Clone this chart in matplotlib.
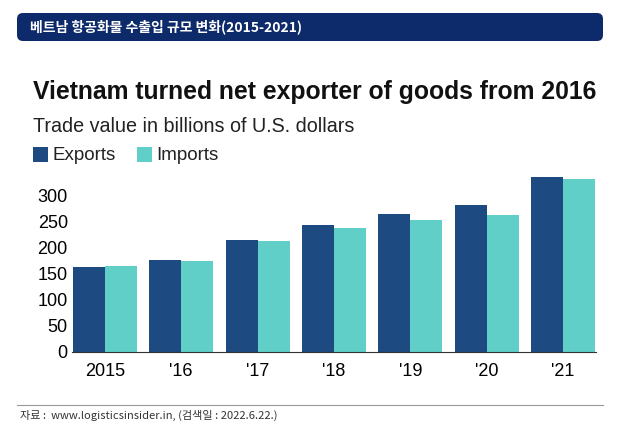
import matplotlib
matplotlib.use("Agg")
import matplotlib.pyplot as plt
from matplotlib.patches import FancyBboxPatch
import numpy as np

plt.rcParams['font.family'] = ['Noto Sans CJK KR', 'DejaVu Sans']

years = ["2015", "'16", "'17", "'18", "'19", "'20", "'21"]
exports = [162, 176, 215, 244, 264, 282, 336]
imports = [165, 175, 213, 237, 253, 262, 332]
yticks = [0, 50, 100, 150, 200, 250, 300]

W, H = 638, 437
fig = plt.figure(figsize=(W/100, H/100), dpi=100)

hdr = fig.add_axes([0, 0, 1, 1], facecolor='none')
hdr.set_xlim(0, W); hdr.set_ylim(H, 0); hdr.axis('off')
hdr.add_patch(FancyBboxPatch((17, 13), 586, 28, boxstyle="round,pad=0,rounding_size=6",
                             fc='#0d2a6b', ec='none'))
hdr.text(30, 27, "베트남 항공화물 수출입 규모 변화(2015-2021)", color='white',
         fontsize=10, fontweight='bold', va='center')
hdr.text(33, 92, "Vietnam turned net exporter of goods from 2016", fontsize=17.8,
         fontweight='bold', va='center', family=['Liberation Sans', 'DejaVu Sans'], color='#111')
hdr.text(33, 127, "Trade value in billions of U.S. dollars", fontsize=14.2,
         va='center', family=['Liberation Sans', 'DejaVu Sans'], color='#222')
hdr.add_patch(plt.Rectangle((33, 147), 15, 15, fc='#1d4a80'))
hdr.text(52, 155, "Exports", fontsize=13.5, va='center', family=['Liberation Sans'], color='#222')
hdr.add_patch(plt.Rectangle((137, 147), 15, 15, fc='#5fcfc8'))
hdr.text(156, 155, "Imports", fontsize=13.5, va='center', family=['Liberation Sans'], color='#222')
hdr.plot([17, 603], [405, 405], color='#999', lw=0.8)
hdr.text(20, 415, "자료 :  www.logisticsinsider.in, (검색일 : 2022.6.22.)", fontsize=8,
         va='center', color='#333')

ax = fig.add_axes([72/W, 1-352/H, (596-72)/W, (352-172)/H])
x = np.arange(len(years))
w = 0.42
ax.bar(x - w/2, exports, w, color='#1d4a80')
ax.bar(x + w/2, imports, w, color='#5fcfc8')
ax.set_xlim(-0.43, len(years)-0.57)
ax.set_ylim(0, 345)
ax.set_yticks(yticks)
ax.set_xticks(x, years)
for s in ['top', 'right', 'left']:
    ax.spines[s].set_visible(False)
ax.spines['bottom'].set_color('#333')
ax.tick_params(axis='y', length=0, labelsize=13, pad=3)
ax.tick_params(axis='x', length=0, labelsize=13, pad=8)
for lab in ax.get_xticklabels() + ax.get_yticklabels():
    lab.set_family(['Liberation Sans', 'DejaVu Sans'])
fig.savefig("out.png", dpi=100)
